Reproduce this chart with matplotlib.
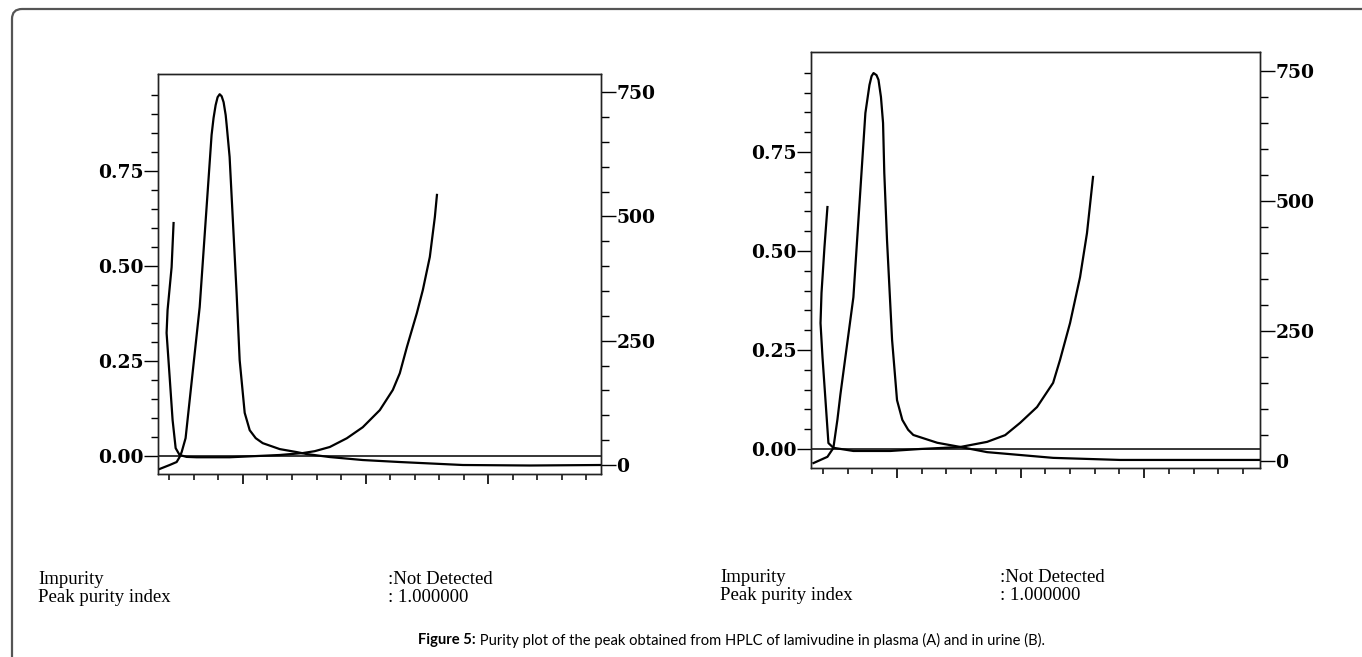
import matplotlib
matplotlib.use("Agg")
import matplotlib.pyplot as plt
from matplotlib.ticker import MultipleLocator, FixedLocator
from matplotlib.path import Path
from matplotlib.patches import PathPatch
from matplotlib import font_manager

# ---------------- data ----------------
# Panel A (plasma): x in time units, purity curve on left axis, chromatogram on right axis
a_pur_t = [0.434, 0.418, 0.385, 0.377, 0.402, 0.426, 0.451, 0.483, 0.540, 0.622, 0.891,
           1.300, 1.487, 1.585, 1.708, 1.847, 1.977, 2.116, 2.222, 2.279, 2.337, 2.418,
           2.467, 2.524, 2.565, 2.582]
a_pur_v = [0.613, 0.497, 0.384, 0.324, 0.208, 0.095, 0.021, 0.003, -0.002, -0.003, -0.003,
           0.003, 0.008, 0.013, 0.024, 0.047, 0.076, 0.121, 0.174, 0.218, 0.287, 0.376,
           0.437, 0.524, 0.629, 0.687]
a_chr_t = [0.320, 0.402, 0.459, 0.483, 0.500, 0.532, 0.647, 0.744, 0.760, 0.777, 0.793,
           0.810, 0.826, 0.842, 0.859, 0.867, 0.891, 0.948, 0.973, 1.014, 1.055, 1.104,
           1.161, 1.300, 1.438, 1.520, 1.708, 1.977, 2.279, 2.793, 3.340, 3.920]
a_chr_v = [-8, 0, 6, 16, 26, 54, 318, 664, 698, 724, 740, 746, 742, 730, 704, 684, 620,
           346, 211, 105, 70, 54, 44, 32, 26, 22, 16, 10, 6, 0, -1, 0]

# Panel B (urine)
b_pur_t = [0.437, 0.413, 0.389, 0.381, 0.397, 0.421, 0.445, 0.485, 0.647, 0.946, 1.188,
           1.511, 1.729, 1.875, 1.996, 2.133, 2.263, 2.319, 2.400, 2.481, 2.537, 2.586]
b_pur_v = [0.611, 0.510, 0.394, 0.318, 0.232, 0.124, 0.015, 0.003, -0.005, -0.005, 0.000,
           0.005, 0.018, 0.035, 0.066, 0.106, 0.167, 0.225, 0.318, 0.434, 0.545, 0.687]
b_chr_t = [0.324, 0.437, 0.485, 0.518, 0.542, 0.647, 0.744, 0.777, 0.794, 0.810, 0.834,
           0.850, 0.870, 0.887, 0.897, 0.919, 0.960, 1.000, 1.043, 1.090, 1.132, 1.326,
           1.511, 1.729, 2.263, 2.804, 3.935]
b_chr_v = [-4, 8, 25, 80, 128, 315, 669, 723, 740, 746, 742, 733, 700, 650, 554, 425, 233,
           117, 79, 60, 50, 35, 27, 17, 6, 2, 2]

left_major = [0.00, 0.25, 0.50, 0.75]
left_minor = [0.05, 0.10, 0.15, 0.20, 0.30, 0.35, 0.40, 0.45, 0.55, 0.60, 0.65, 0.70,
              0.80, 0.85, 0.90, 0.95]
right_major = [0, 250, 500, 750]

info_labels = ["Impurity", "Peak purity index"]
info_values = [":Not Detected", ": 1.000000"]
caption_bold = "Figure 5:"
caption_rest = " Purity plot of the peak obtained from HPLC of lamivudine in plasma (A) and in urine (B)."

# ---------------- layout ----------------
W, H = 1362, 657
fig = plt.figure(figsize=(W / 100, H / 100), dpi=100)
fig.patch.set_facecolor("white")

def rect_px(l, t, r, b):
    return [l / W, 1 - b / H, (r - l) / W, (b - t) / H]

tick_font = dict(family="DejaVu Serif", size=13.5, weight="bold")

def panel(rect, xlim, ylim_l, ylim_r, pt, pv, ct, cv):
    ax = fig.add_axes(rect)
    ax.set_xlim(xlim)
    ax.set_ylim(ylim_l)
    ax2 = ax.twinx()
    ax2.set_ylim(ylim_r)
    ax.axhline(0, color="black", lw=1.1, zorder=1)
    ax.plot(pt, pv, color="black", lw=1.6, solid_joinstyle="round")
    ax2.plot(ct, cv, color="black", lw=1.6, solid_joinstyle="round")
    for a in (ax, ax2):
        for s in a.spines.values():
            s.set_linewidth(1.0)
            s.set_color("#222222")
    ax.xaxis.set_major_locator(MultipleLocator(1.0))
    ax.xaxis.set_minor_locator(MultipleLocator(0.2))
    ax.tick_params(axis="x", which="major", direction="out", length=7, width=1.2,
                   labelbottom=False)
    ax.tick_params(axis="x", which="minor", direction="out", length=4, width=1.1)
    ax.yaxis.set_major_locator(FixedLocator(left_major))
    ax.yaxis.set_minor_locator(FixedLocator(left_minor))
    ax.set_yticklabels([f"{v:.2f}" for v in left_major], fontdict=tick_font)
    ax.tick_params(axis="y", which="major", direction="out", length=10, width=1.0, pad=0)
    ax.tick_params(axis="y", which="minor", direction="out", length=5, width=1.0)
    ax2.yaxis.set_major_locator(FixedLocator(right_major))
    ax2.yaxis.set_minor_locator(MultipleLocator(50))
    ax2.set_yticklabels([str(v) for v in right_major], fontdict=tick_font)
    ax2.tick_params(axis="y", which="major", direction="out", length=11, width=1.0, pad=0)
    ax2.tick_params(axis="y", which="minor", direction="out", length=6, width=1.0)
    return ax, ax2

panel(rect_px(158, 74, 601, 474), (0.307, 3.920), (-0.047, 1.005), (-18.1, 786.7),
      a_pur_t, a_pur_v, a_chr_t, a_chr_v)
panel(rect_px(811, 52, 1260, 468), (0.304, 3.937), (-0.048, 1.0025), (-13.5, 786.5),
      b_pur_t, b_pur_v, b_chr_t, b_chr_v)

# info text under each panel
serif = dict(family="Liberation Serif", size=13.5, va="center", ha="left")
for x_lab, x_val, y0 in [(38, 388, 580), (720, 1000, 578)]:
    for i, (lab, val) in enumerate(zip(info_labels, info_values)):
        y = y0 + i * 17
        fig.text(x_lab / W, 1 - y / H, lab, **serif)
        fig.text(x_val / W, 1 - y / H, val, **serif)

# caption font: a narrow sans if available
available = {f.name for f in font_manager.fontManager.ttflist}
cap_family = "Liberation Sans Narrow" if "Liberation Sans Narrow" in available else "Lato"

r = fig.canvas.get_renderer()
cap_left, cap_width, cap_y = 418, 627, 640
size = 11.0
t1 = fig.text(cap_left / W, 1 - cap_y / H, caption_bold, family=cap_family, weight="bold",
              size=size, va="center", ha="left")
t2 = fig.text(0, 1 - cap_y / H, caption_rest, family=cap_family, size=size,
              va="center", ha="left")
for _ in range(3):
    t1.set_fontsize(size)
    t2.set_fontsize(size)
    b1 = t1.get_window_extent(r)
    t2.set_x(b1.x1 / W)
    b2 = t2.get_window_extent(r)
    total = b2.x1 - b1.x0
    size = size * cap_width / total

# outer frame (left and top edges with rounded corner)
def P(x, y):
    return (x / 100, (H - y) / 100)
verts = [P(12, H + 10), P(12, 19), P(12, 9), P(22, 9), P(W + 10, 9)]
codes = [Path.MOVETO, Path.LINETO, Path.CURVE3, Path.CURVE3, Path.LINETO]
fig.patches.append(PathPatch(Path(verts, codes), transform=fig.dpi_scale_trans,
                             fill=False, edgecolor="#555555", lw=1.6))

fig.savefig("out.png", dpi=100, facecolor="white")
